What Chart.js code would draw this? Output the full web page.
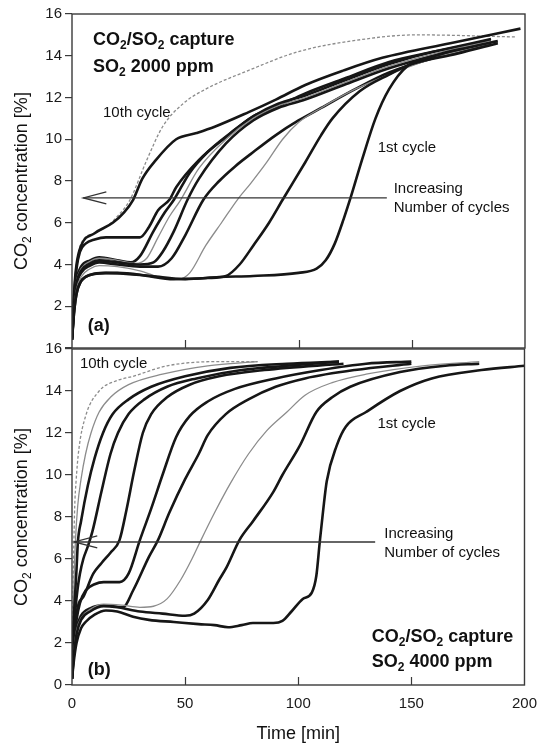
<!DOCTYPE html>
<html>
<head>
<meta charset="utf-8">
<script src="https://cdn.jsdelivr.net/npm/chart.js@4.4.0/dist/chart.umd.min.js"></script>
<style>
  html, body { margin: 0; padding: 0; background: #fff; }
  #wrap { position: relative; width: 547px; height: 747px; }
  canvas { position: absolute; left: 0; }
  #ca { top: 0; }
  #cb { top: 330px; }
</style>
</head>
<body>
<div id="wrap">
  <canvas id="ca" width="547" height="360" style="width:547px;height:360px"></canvas>
  <canvas id="cb" width="547" height="417" style="width:547px;height:417px"></canvas>
</div>
<script>
// ── data: [time (min), CO2 (%)] per cycle ─────────────────────────────────────
// (a) SO2 2000 ppm
const a1  = [[0,0.4],[1,1.8],[2,2.6],[3.5,3.1],[6,3.4],[10,3.55],[20,3.6],[35,3.45],[50,3.3],[65,3.4],[80,3.45],[100,3.6],[108,3.8],[112,4.2],[116,5.0],[120,6.2],[123,7.2],[128,9.0],[134,11.0],[140,12.4],[148,13.5],[160,14.0],[175,14.4],[188,14.7]];
const a2  = [[0,0.4],[1,1.8],[2,2.6],[4,3.2],[8,3.5],[15,3.6],[30,3.5],[45,3.3],[60,3.35],[68,3.45],[74,4.0],[80,4.9],[87,6.0],[93,7.1],[103,8.9],[110,10.2],[115,11.0],[127,12.3],[140,13.1],[150,13.6],[170,14.1],[188,14.6]];
const a3  = [[0,0.4],[1,2.0],[2,2.8],[4,3.4],[8,3.8],[12,3.95],[20,3.9],[30,3.7],[40,3.35],[47,3.3],[52,3.6],[59,4.9],[66,6.0],[73,7.1],[79,7.9],[86,8.9],[93,10.0],[100,10.8],[110,11.5],[125,12.4],[140,13.1],[160,13.9],[185,14.6]];
const a4  = [[0,0.4],[1,2.0],[2,3.0],[4,3.6],[8,3.95],[12,4.1],[20,4.0],[30,3.9],[38,3.9],[44,4.3],[50,5.4],[58,7.1],[65,8.0],[72,8.7],[79,9.3],[90,10.2],[100,10.9],[110,11.5],[125,12.4],[140,13.2],[160,13.9],[185,14.6]];
const a5  = [[0,0.4],[1,2.2],[2,3.1],[4,3.7],[8,4.05],[12,4.2],[20,4.1],[30,4.0],[36,4.1],[40,4.6],[45,5.6],[51,7.1],[56,8.1],[68,9.8],[80,10.9],[91,11.5],[103,11.9],[120,12.6],[140,13.4],[160,14.0],[185,14.6]];
const a6  = [[0,0.4],[1,2.3],[2,3.2],[4,3.8],[8,4.15],[12,4.3],[20,4.2],[28,4.05],[33,4.3],[38,5.3],[43,6.3],[48,7.1],[56,8.6],[68,10.0],[80,11.0],[91,11.6],[103,12.0],[120,12.7],[140,13.5],[160,14.1],[185,14.7]];
const a7  = [[0,0.4],[1,2.4],[2,3.3],[4,3.9],[8,4.2],[12,4.35],[20,4.2],[26,4.1],[30,4.4],[36,5.6],[41,6.5],[45,7.1],[52,8.4],[60,9.4],[70,10.3],[80,11.1],[91,11.7],[103,12.1],[120,12.8],[140,13.6],[160,14.2],[185,14.7]];
const a8  = [[0,0.5],[1,2.6],[2,3.8],[3.5,4.6],[6,5.0],[10,5.2],[15,5.3],[30,5.3],[34,5.8],[38,6.6],[43,7.1],[46,7.7],[56,9.0],[68,10.1],[80,11.1],[91,11.6],[103,12.2],[120,12.9],[140,13.7],[160,14.2],[185,14.8]];
const a9  = [[0,0.5],[1,2.8],[2,4.0],[4,4.9],[10,5.5],[18,6.0],[23,6.5],[27,7.1],[31,8.1],[37,9.0],[46,10.0],[55,10.3],[63,10.6],[78,11.3],[90,11.9],[103,12.6],[120,13.3],[137,13.9],[167,14.6],[198,15.3]];
const a10 = [[0,0.5],[1,2.8],[2,4.0],[4,5.0],[10,5.5],[15,5.8],[20,6.3],[25.6,7.1],[33,9.0],[40,10.6],[49,11.7],[59,12.4],[78,13.3],[100,14.2],[123,14.7],[152,15.0],[196,14.9]];

// (b) SO2 4000 ppm
const b1  = [[0,0.3],[1,1.3],[2,2.0],[4,2.7],[6,3.0],[10,3.35],[15,3.55],[20,3.5],[27,3.25],[34,3.1],[45,3.0],[56,2.9],[63,2.85],[69,2.75],[75,2.85],[80,2.95],[89,2.95],[93,3.05],[97,3.5],[102,4.1],[106,4.4],[108,5.2],[109.5,6.8],[111,8.3],[112.6,9.7],[117,11.4],[121,12.3],[130,13.0],[145,14.0],[159,14.6],[181,15.0],[200,15.2]];
const b2  = [[0,0.3],[1,1.6],[2,2.4],[4,3.1],[8,3.5],[14,3.75],[20,3.7],[30,3.5],[40,3.4],[50,3.3],[54,3.4],[60,4.05],[65,5.0],[68.3,5.6],[74,6.9],[80,7.8],[89,9.2],[93,10.0],[100.7,11.4],[108,13.0],[115,13.7],[123,14.2],[145,14.9],[165,15.2],[180,15.3]];
const b3  = [[0,0.3],[1,1.8],[2,2.6],[4,3.2],[8,3.6],[14,3.85],[22,3.8],[30,3.7],[36,3.75],[42,4.1],[48,5.0],[53,6.0],[57,6.9],[63,8.2],[70,9.6],[78,11.0],[86,12.1],[95,13.0],[103,13.8],[115,14.4],[130,14.8],[155,15.2],[180,15.4]];
const b4  = [[0,0.3],[1,1.9],[2,2.7],[4,3.3],[8,3.65],[14,3.8],[22.5,3.7],[27,4.5],[34,6.1],[38,6.9],[43,8.2],[50,9.8],[56,11.0],[60,11.9],[68,12.9],[78,13.6],[90,14.2],[103,14.6],[125,15.0],[150,15.3]];
const b5  = [[0,0.3],[1,2.2],[2,3.1],[3.5,3.9],[6,4.5],[10,4.8],[14,4.9],[21,4.9],[25,5.3],[30,6.9],[35,8.4],[40,10.0],[46,11.8],[52,12.8],[60,13.5],[72,14.1],[90,14.6],[110,15.0],[130,15.3],[150,15.4]];
const b6  = [[0,0.3],[1,2.5],[2,3.4],[3,3.9],[5,4.2],[9.4,5.3],[13,5.8],[17,6.3],[21,6.9],[24,8.3],[27.5,10.2],[31.3,12.0],[35,12.9],[42,13.7],[52,14.3],[65,14.7],[85,15.0],[120,15.3]];
const b7  = [[0,0.3],[0.7,2.5],[1.5,3.6],[2.5,4.6],[3.5,5.3],[5,6.0],[7,6.6],[9,7.3],[13,9.2],[17,11.0],[20.3,12.0],[25,12.9],[32,13.6],[42,14.2],[55,14.6],[75,15.0],[95,15.2],[118,15.4]];
const b8  = [[0,0.3],[0.5,2.5],[1.2,4.0],[2,5.5],[2.6,6.8],[4,7.8],[7,9.5],[10,10.8],[13.7,12.0],[18,12.9],[25,13.6],[35,14.2],[50,14.7],[70,15.1],[95,15.3],[118,15.4]];
const b9  = [[0,0.3],[0.4,2.5],[0.9,5.0],[1.5,6.8],[2.5,8.5],[4,9.8],[6,11.0],[8.4,12.0],[12,13.0],[17,13.7],[25,14.3],[40,14.8],[60,15.2],[82,15.4]];
const b10 = [[0,0.3],[0.3,3.0],[0.7,6.0],[1.2,8.5],[1.8,9.7],[3,11.2],[6,12.8],[12,14.0],[20,14.5],[27,14.7],[42,15.2],[65,15.4],[82,15.4]];

const xTicks = [0, 50, 100, 150, 200];
const yTicks = [0, 2, 4, 6, 8, 10, 12, 14, 16];

// ── styling ───────────────────────────────────────────────────────────────────
const FONT = '"Liberation Sans", Arial, Helvetica, sans-serif';
const BOLD = { c: '#161616', w: 2.6, dash: [] };
const THIN = { c: '#8c8c8c', w: 1.3, dash: [] };
const DOTS = { c: '#8c8c8c', w: 1.3, dash: [3, 2] };

function ds(pts, st) {
  return {
    data: pts.map(p => ({ x: p[0], y: p[1] })),
    showLine: true,
    borderColor: st.c,
    borderWidth: st.w,
    borderDash: st.dash,
    pointRadius: 0,
    cubicInterpolationMode: 'monotone',
    fill: false,
  };
}

// text with subscripts: parts = [[text, isSub], ...]
function rich(ctx, x, y, parts, size, bold, measureOnly) {
  let cx = x;
  for (const [s, sub] of parts) {
    const fs = sub ? Math.round(size * 0.64) : size;
    ctx.font = `${bold ? 'bold ' : ''}${fs}px ${FONT}`;
    if (!measureOnly) ctx.fillText(s, cx, sub ? y + size * 0.3 : y);
    cx += ctx.measureText(s).width;
  }
  return cx - x;
}

const yTitle = [['CO', 0], ['2', 1], [' concentration [%]', 0]];

function decoPlugin(notes, arrow, withTime) {
  return {
    id: 'deco',
    afterDatasetsDraw(chart) {
      const { ctx, chartArea: a, scales: { x, y } } = chart;
      ctx.save();
      // frame
      ctx.strokeStyle = '#3a3a3a';
      ctx.lineWidth = 1.4;
      ctx.strokeRect(a.left, a.top, a.right - a.left, a.bottom - a.top);
      // inward ticks on bottom edge
      ctx.lineWidth = 1.2;
      [50, 100, 150].forEach(v => {
        const px = Math.round(x.getPixelForValue(v)) + 0.5;
        ctx.beginPath(); ctx.moveTo(px, a.bottom); ctx.lineTo(px, a.bottom - 8); ctx.stroke();
      });
      // arrow
      const ay = y.getPixelForValue(arrow.c);
      const x0 = x.getPixelForValue(arrow.t0), x1 = x.getPixelForValue(arrow.t1);
      ctx.strokeStyle = '#333';
      ctx.lineWidth = 1.3;
      ctx.beginPath(); ctx.moveTo(x0, ay); ctx.lineTo(x1, ay); ctx.stroke();
      ctx.beginPath();
      ctx.moveTo(x0 + 23, ay - 6); ctx.lineTo(x0, ay); ctx.lineTo(x0 + 23, ay + 6);
      ctx.stroke();
      // notes
      ctx.fillStyle = '#111';
      ctx.textBaseline = 'middle';
      ctx.textAlign = 'left';
      notes.forEach(n => {
        rich(ctx, x.getPixelForValue(n.t), y.getPixelForValue(n.c), n.parts, n.size, n.bold);
      });
      // y title
      ctx.save();
      ctx.translate(22, (a.top + a.bottom) / 2);
      ctx.rotate(-Math.PI / 2);
      const w = rich(ctx, 0, 0, yTitle, 18, false, true);
      rich(ctx, -w / 2, 0, yTitle, 18, false);
      ctx.restore();
      if (withTime) {
        ctx.font = `18px ${FONT}`;
        ctx.textAlign = 'center';
        ctx.fillText('Time [min]', (a.left + a.right) / 2, 404);
      }
      ctx.restore();
    }
  };
}

function yScale(hideZero) {
  return {
    type: 'linear', min: 0, max: 16,
    afterBuildTicks: s => { s.ticks = yTicks.map(v => ({ value: v })); },
    ticks: {
      font: { family: FONT, size: 15 }, color: '#1a1a1a', padding: 3,
      callback: v => (hideZero && v === 0) ? '' : v,
    },
    grid: { drawOnChartArea: false, tickLength: 7, color: '#3a3a3a', lineWidth: 1.2 },
    border: { display: false },
    afterFit: s => { s.width = 72; },
  };
}

Chart.defaults.animation = false;

const CAP = [['CO', 0], ['2', 1], ['/SO', 0], ['2', 1], [' capture', 0]];

// ── panel (a) ─────────────────────────────────────────────────────────────────
new Chart(document.getElementById('ca'), {
  type: 'scatter',
  data: {
    datasets: [
      ds(a1, BOLD), ds(a2, BOLD), ds(a3, THIN), ds(a4, BOLD), ds(a5, BOLD),
      ds(a6, THIN), ds(a7, BOLD), ds(a8, BOLD), ds(a9, BOLD), ds(a10, DOTS),
    ],
  },
  options: {
    responsive: false,
    layout: { padding: { top: 14, bottom: 11, right: 22, left: 0 } },
    plugins: { legend: { display: false }, tooltip: { enabled: false } },
    scales: {
      x: { type: 'linear', min: 0, max: 200, display: false },
      y: yScale(true),
    },
  },
  plugins: [decoPlugin([
    { t: 9.3, c: 14.76, parts: CAP, size: 18, bold: true },
    { t: 9.3, c: 13.47, parts: [['SO', 0], ['2', 1], [' 2000 ppm', 0]], size: 18, bold: true },
    { t: 13.7, c: 11.27, parts: [['10th cycle', 0]], size: 15 },
    { t: 135, c: 9.6, parts: [['1st cycle', 0]], size: 15 },
    { t: 142, c: 7.6, parts: [['Increasing', 0]], size: 15 },
    { t: 142, c: 6.69, parts: [['Number of cycles', 0]], size: 15 },
    { t: 7, c: 1.05, parts: [['(a)', 0]], size: 18, bold: true },
  ], { t0: 5, t1: 139, c: 7.19 }, false)],
});

// ── panel (b) ─────────────────────────────────────────────────────────────────
new Chart(document.getElementById('cb'), {
  type: 'scatter',
  data: {
    datasets: [
      ds(b1, BOLD), ds(b2, BOLD), ds(b3, THIN), ds(b4, BOLD), ds(b5, BOLD),
      ds(b6, BOLD), ds(b7, BOLD), ds(b8, BOLD), ds(b9, THIN), ds(b10, DOTS),
    ],
  },
  options: {
    responsive: false,
    layout: { padding: { top: 19, bottom: 0, right: 22, left: 0 } },
    plugins: { legend: { display: false }, tooltip: { enabled: false } },
    scales: {
      x: {
        type: 'linear', min: 0, max: 200,
        afterBuildTicks: s => { s.ticks = xTicks.map(v => ({ value: v })); },
        ticks: { font: { family: FONT, size: 15 }, color: '#1a1a1a', padding: 10, maxRotation: 0 },
        grid: { drawOnChartArea: false, drawTicks: false },
        border: { display: false },
        afterFit: s => { s.height = 62; },
      },
      y: yScale(false),
    },
  },
  plugins: [decoPlugin([
    { t: 3.5, c: 15.29, parts: [['10th cycle', 0]], size: 15 },
    { t: 135, c: 12.43, parts: [['1st cycle', 0]], size: 15 },
    { t: 138, c: 7.19, parts: [['Increasing', 0]], size: 15 },
    { t: 138, c: 6.29, parts: [['Number of cycles', 0]], size: 15 },
    { t: 132.5, c: 2.29, parts: CAP, size: 18, bold: true },
    { t: 132.5, c: 1.1, parts: [['SO', 0], ['2', 1], [' 4000 ppm', 0]], size: 18, bold: true },
    { t: 7, c: 0.71, parts: [['(b)', 0]], size: 18, bold: true },
  ], { t0: 1, t1: 134, c: 6.81 }, true)],
});
</script>
</body>
</html>
